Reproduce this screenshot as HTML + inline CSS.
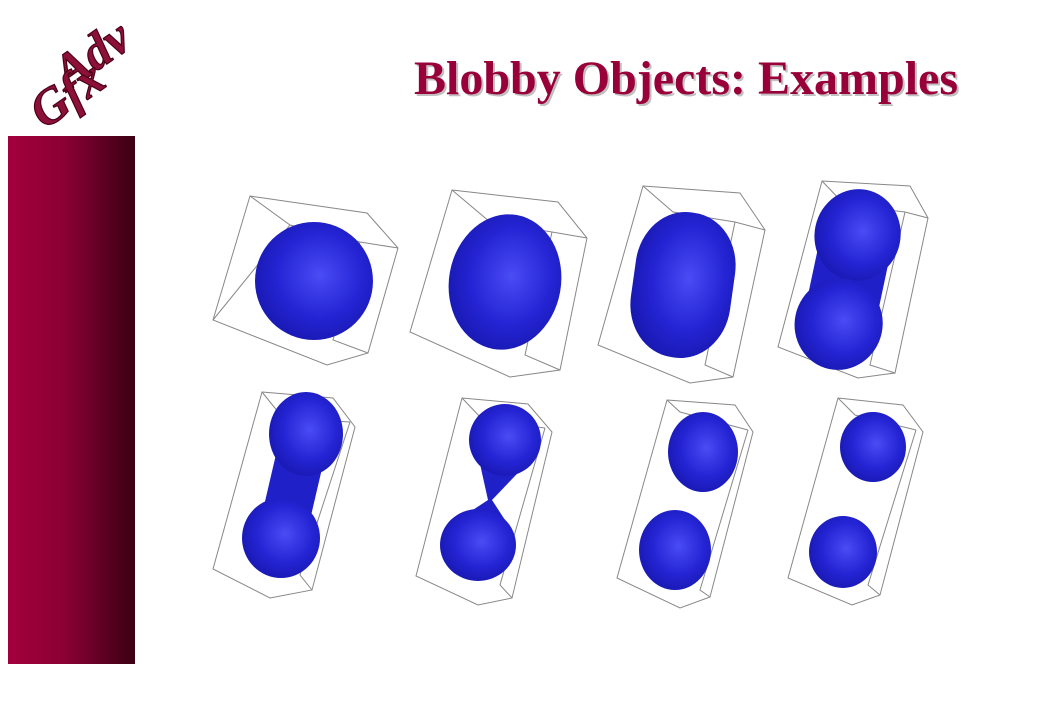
<!DOCTYPE html>
<html><head><meta charset="utf-8"><style>
html,body{margin:0;padding:0;background:#fff;}
body{width:1039px;height:720px;overflow:hidden;position:relative;font-family:"Liberation Serif",serif;}
</style></head><body>
<svg width="1039" height="720" viewBox="0 0 1039 720">
<defs>
<linearGradient id="bar" x1="0" x2="1" y1="0" y2="0">
<stop offset="0" stop-color="#a3003c"/><stop offset="0.45" stop-color="#8a0033"/><stop offset="1" stop-color="#3a0013"/>
</linearGradient>
<radialGradient id="blob" cx="0.55" cy="0.45" r="0.6">
<stop offset="0" stop-color="#4a4cf5"/><stop offset="0.6" stop-color="#2424d4"/><stop offset="1" stop-color="#1818b0"/>
</radialGradient>
</defs>
<rect x="8" y="136" width="127" height="528" fill="url(#bar)"/>
<g transform="translate(0,-14)" font-family="Liberation Serif,serif" font-weight="bold" font-style="italic" fill="#8d1038" stroke="#4a0018" stroke-width="1.2">
<text x="50" y="92" font-size="50" transform="rotate(-35 80 70)">Adv</text>
<text x="25" y="128" font-size="50" transform="rotate(-35 60 105)">Gfx</text>
</g>
<text x="688" y="96" text-anchor="middle" font-size="48" font-weight="bold" fill="#c0c0c0">Blobby Objects: Examples</text>
<text x="686" y="94" text-anchor="middle" font-size="48" font-weight="bold" fill="#99003a">Blobby Objects: Examples</text>
<g fill="none" stroke="#888" stroke-width="1">
<polygon points="250,196 367,213 398,248 368,353 327,365 213,320"/>
<polyline points="250,196 290,225 360,242 398,248"/><polyline points="360,242 333,340 368,353"/><polyline points="290,225 213,320"/>
<polygon points="452,190 558,202 587,238 560,370 510,377 410,332"/>
<polyline points="452,190 490,222 552,232 587,238"/><polyline points="552,232 525,355 560,370"/>
<polygon points="643,186 740,193 765,230 733,377 690,383 598,345"/>
<polyline points="643,186 673,212 735,222 765,230"/><polyline points="735,222 705,365 733,377"/>
<polygon points="822,181 910,186 928,218 895,373 858,378 778,347"/>
<polyline points="822,181 845,205 905,212 928,218"/><polyline points="905,212 870,365 895,373"/>
<polygon points="262,392 333,398 355,427 312,590 270,598 213,569"/>
<polyline points="262,392 283,418 350,422"/><polyline points="350,422 300,575 312,590"/>
<polygon points="462,398 528,404 552,432 512,598 478,605 416,576"/>
<polyline points="462,398 483,420 545,428"/><polyline points="545,428 500,585 512,598"/>
<polygon points="667,400 735,405 753,432 710,597 680,608 617,578"/>
<polyline points="667,400 680,412 748,430"/><polyline points="748,430 700,590 710,597"/>
<polygon points="838,398 903,405 923,432 880,595 852,605 788,578"/>
<polyline points="838,398 855,415 916,430"/><polyline points="916,430 868,585 880,595"/>
</g>
<g fill="url(#blob)">
<circle cx="314" cy="281" r="59"/>
<ellipse cx="505" cy="282" rx="56" ry="68" transform="rotate(10 505 282)"/>
<rect x="633" y="212" width="100" height="146" rx="48" ry="55" transform="rotate(8 683 285)"/>
<g transform="rotate(12 848 280)">
<line x1="848" y1="234" x2="848" y2="325" stroke="#2020c8" stroke-width="72"/>
<ellipse cx="848" cy="234" rx="43" ry="46"/><ellipse cx="848" cy="325" rx="44" ry="46"/></g>
<g>
<line x1="304" y1="440" x2="283" y2="530" stroke="#2020c8" stroke-width="48"/>
<ellipse cx="306" cy="434" rx="37" ry="42"/><ellipse cx="281" cy="538" rx="39" ry="40"/></g>
<g>
<path d="M478,455 L488,500 L450,525 L505,520 L492,500 L535,455 Z" fill="#2020c8"/>
<circle cx="505" cy="440" r="36"/><ellipse cx="478" cy="545" rx="38" ry="36"/></g>
<g>
<ellipse cx="703" cy="452" rx="35" ry="40"/><ellipse cx="675" cy="550" rx="36" ry="40"/></g>
<g>
<ellipse cx="873" cy="447" rx="33" ry="35"/><ellipse cx="843" cy="552" rx="34" ry="36"/></g>
</g>
</svg>
</body></html>
